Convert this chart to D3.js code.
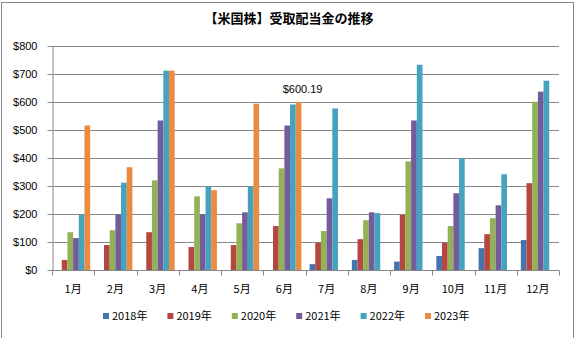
<!DOCTYPE html>
<html>
<head>
<meta charset="utf-8">
<script src="https://cdn.jsdelivr.net/npm/d3@7"></script>
<style>
  body { margin: 0; background: #fff; }
  svg { display: block; font-family: "Liberation Sans", "Noto Sans CJK JP", sans-serif; }
</style>
</head>
<body>
<div id="chart"></div>
<script>
// monthly dividends per year (USD), null = nothing received / not yet
const months = ["1月","2月","3月","4月","5月","6月","7月","8月","9月","10月","11月","12月"];
const years = ["2018年","2019年","2020年","2021年","2022年","2023年"];
const colors = ["#4674B0","#B4473F","#93B256","#735C99","#45A3BF","#E98B40"];

const y2018 = [null, null, null, null, null, null, 21, 36, 30, 50, 78, 107];
const y2019 = [36, 89, 135, 82, 89, 157, 97, 110, 197, 97, 128, 310];
const y2020 = [135, 142, 320, 263, 167, 363, 139, 178, 388, 157, 185, 601];
const y2021 = [114, 199, 534, 198, 206, 516, 256, 206, 534, 274, 231, 637];
const y2022 = [199, 312, 712, 298, 298, 591, 577, 203, 733, 399, 342, 676];
const y2023 = [516, 367, 712, 285, 594, 600.19, null, null, null, null, null, null];

const series = [y2018, y2019, y2020, y2021, y2022, y2023];
const yTicks = [0, 100, 200, 300, 400, 500, 600, 700, 800];

const W = 576, H = 338;
const margin = { top: 46, right: 17, bottom: 68, left: 52 };
const width = W - margin.left - margin.right;
const height = H - margin.top - margin.bottom;

const svg = d3.select("#chart").append("svg")
    .attr("width", W)
    .attr("height", H);

// outer frame
svg.append("rect")
    .attr("x", 1.5).attr("y", 2.5)
    .attr("width", 572).attr("height", 340)
    .attr("fill", "none")
    .attr("stroke", "#888");

svg.append("text")
    .attr("x", 289)
    .attr("y", 23)
    .attr("text-anchor", "middle")
    .style("font-family", "'Noto Sans CJK JP', sans-serif")
    .style("font-weight", "bold")
    .style("font-size", "13px")
    .text("【米国株】受取配当金の推移");

const g = svg.append("g")
    .attr("transform", `translate(${margin.left},${margin.top})`);

const x = d3.scaleBand().domain(months).range([0, width]).padding(0);
const xi = d3.scaleBand().domain(years).range([0, x.bandwidth()])
    .paddingInner(0).paddingOuter(0.72);
const y = d3.scaleLinear().domain([0, 800]).range([height, 0]);

// gridlines
g.selectAll(".grid")
    .data(yTicks.slice(1))
    .enter().append("line")
    .attr("class", "grid")
    .attr("x1", 0).attr("x2", width)
    .attr("y1", d => Math.round(y(d)) + 0.5)
    .attr("y2", d => Math.round(y(d)) + 0.5)
    .attr("stroke", "#888");

// bars
const rows = months.map((m, i) => ({ month: m, vals: series.map((s, k) => ({ year: years[k], v: s[i], c: colors[k] })) }));

const groups = g.selectAll(".month")
    .data(rows)
    .enter().append("g")
    .attr("class", "month")
    .attr("transform", d => `translate(${x(d.month)},0)`);

groups.selectAll("rect")
    .data(d => d.vals.filter(e => e.v != null))
    .enter().append("rect")
    .attr("x", d => xi(d.year))
    .attr("width", xi.bandwidth())
    .attr("y", d => y(d.v))
    .attr("height", d => height - y(d.v))
    .attr("fill", d => d.c);

// value label on June 2023
const junIdx = 5;
g.append("text")
    .attr("x", x(months[junIdx]) + xi(years[5]) + xi.bandwidth() / 2 + 4)
    .attr("y", y(y2023[junIdx]) - 9)
    .attr("text-anchor", "middle")
    .style("font-size", "11px")
    .style("fill", "#000")
    .text("$" + d3.format(".2f")(y2023[junIdx]));

// y axis with cross ticks
const yAxis = g.append("g")
    .attr("transform", "translate(0.5,0)")
    .call(d3.axisLeft(y).tickValues(yTicks).tickFormat(d => "$" + d).tickSizeOuter(0));
yAxis.select(".domain").attr("stroke", "#888");
yAxis.selectAll(".tick line").attr("x1", -5).attr("x2", 5).attr("stroke", "#888");
yAxis.selectAll(".tick text")
    .attr("x", -15)
    .style("font-size", "11px")
    .style("fill", "#000");

// x axis: boundary ticks + month labels
const xAxis = g.append("g")
    .attr("transform", `translate(0,${height + 0.5})`);
xAxis.append("line")
    .attr("x1", 0).attr("x2", width)
    .attr("stroke", "#888");
const bounds = months.map(m => x(m)).concat([width]);
xAxis.selectAll(".btick")
    .data(bounds)
    .enter().append("line")
    .attr("class", "btick")
    .attr("x1", d => Math.round(d) + 0.5).attr("x2", d => Math.round(d) + 0.5)
    .attr("y1", 0).attr("y2", 5)
    .attr("stroke", "#888");
xAxis.selectAll(".mlabel")
    .data(months)
    .enter().append("text")
    .attr("class", "mlabel")
    .attr("x", d => x(d) + x.bandwidth() / 2)
    .attr("y", 22)
    .attr("text-anchor", "middle")
    .style("font-family", "'Noto Sans CJK JP', sans-serif")
    .style("font-size", "11px")
    .text(d => d);

// legend
const legend = svg.append("g")
    .attr("transform", "translate(103,316)");
const item = legend.selectAll(".item")
    .data(years)
    .enter().append("g")
    .attr("class", "item")
    .attr("transform", (d, i) => `translate(${i * 64.4},0)`);
item.append("rect")
    .attr("x", 0).attr("y", -3)
    .attr("width", 6).attr("height", 6)
    .attr("fill", (d, i) => colors[i]);
item.append("text")
    .attr("x", 9)
    .attr("y", 4)
    .style("font-family", "'Noto Sans CJK JP', sans-serif")
    .style("font-size", "11px")
    .text(d => d);
</script>
</body>
</html>
